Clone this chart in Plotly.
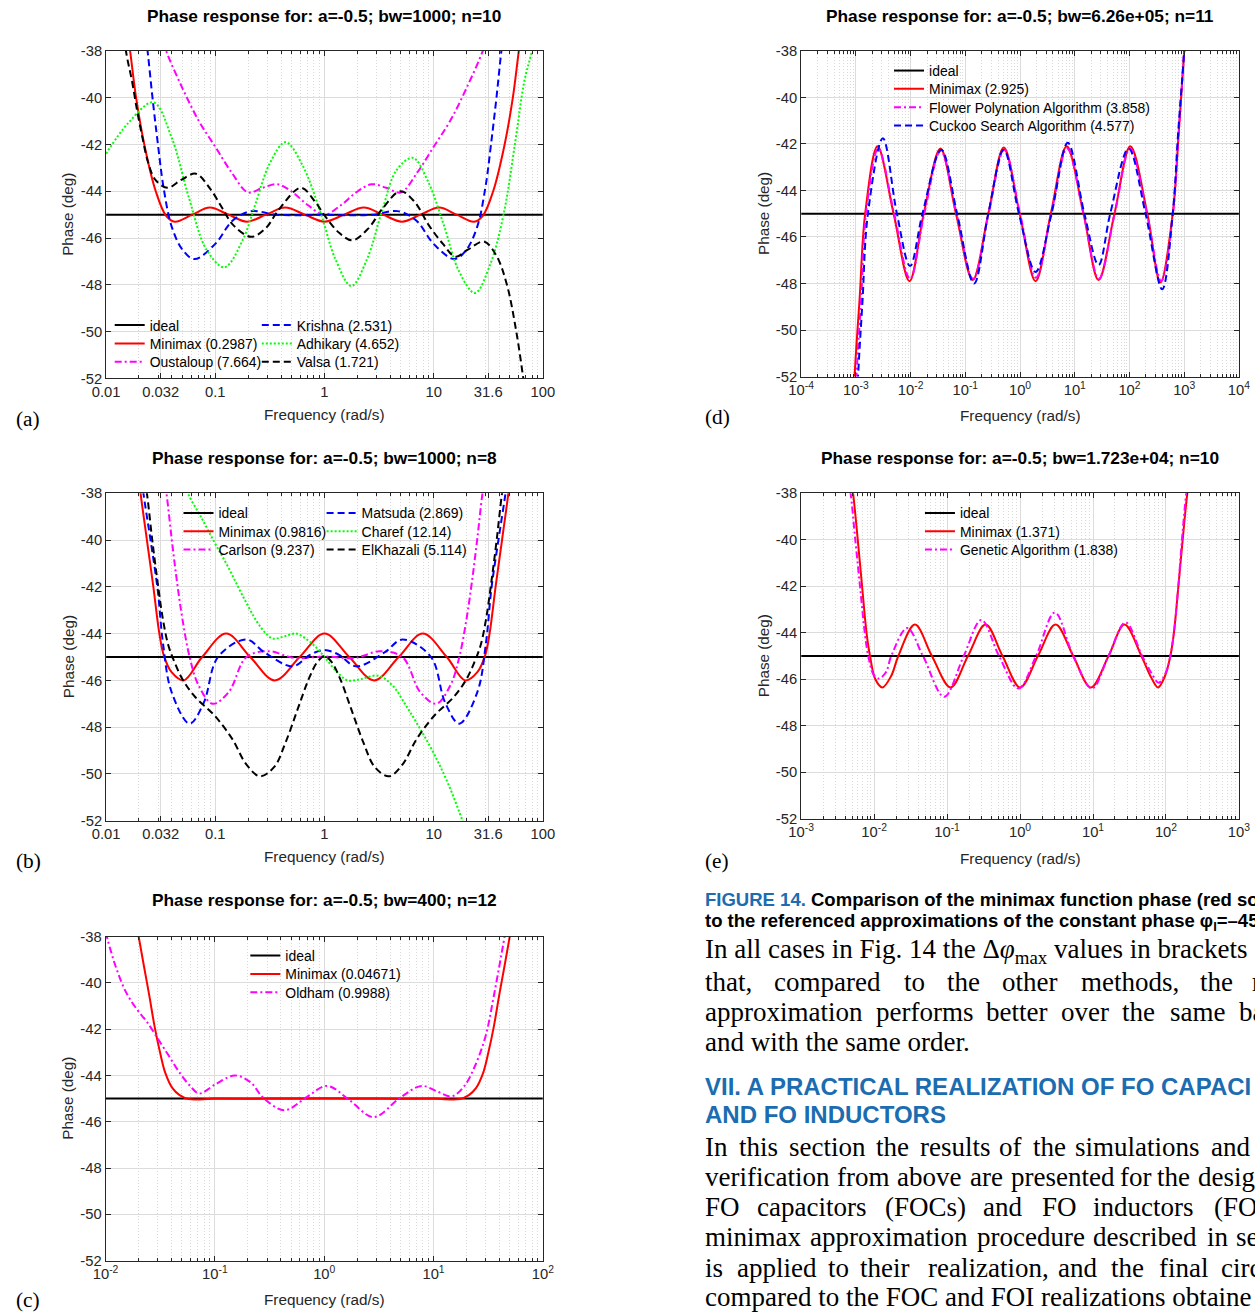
import plotly.graph_objects as go

W, H = 1255, 1314
SANS = "Liberation Sans, Arial, Helvetica, sans-serif"
SERIF = "Liberation Serif, Times New Roman, serif"
INK = "#262626"
HEAD_BLUE = "#1b6cb0"
RED, BLUE, GREEN, MAGENTA, BLACK = "#ff0000", "#0000ff", "#00ff00", "#ff00ff", "#000000"
DASHES = {"solid": "solid", "dash": "7px,4px", "dot": "2px,2px", "dashdot": "7px,3px,2px,3px"}
FS = 1.018  # font scale

# ---------------- data (log10 of frequency, phase in deg) ----------------
IDEAL_PH = [-45, -45]

# (a) bw=1000, n=10
A_MINIMAX_LOGW = [-1.84, -1.78, -1.725, -1.65, -1.545, -1.45, -1.37, -1.21, -1.05, -0.88, -0.71, -0.535, -0.36, -0.18, 0.0,
                  0.18, 0.36, 0.535, 0.71, 0.88, 1.05, 1.21, 1.37, 1.45, 1.545, 1.65, 1.725, 1.78, 1.84]
A_MINIMAX_PH = [-36.0, -38.0, -40.0, -42.0, -44.0, -45.05, -45.3, -45.0, -44.7, -45.0, -45.3, -45.0, -44.7, -45.0, -45.3,
                -45.0, -44.7, -45.0, -45.3, -45.0, -44.7, -45.0, -45.3, -45.05, -44.0, -42.0, -40.0, -38.0, -36.0]
A_OUSTALOUP_LOGW = [-1.52, -1.45, -1.30, -1.15, -1.0, -0.85, -0.70, -0.565, -0.43, -0.29, -0.15, 0.0,
                    0.15, 0.29, 0.43, 0.565, 0.70, 0.85, 1.0, 1.15, 1.30, 1.45, 1.52]
A_OUSTALOUP_PH = [-37.0, -38.0, -39.6, -41.0, -42.1, -43.2, -44.05, -43.85, -43.7, -44.05, -44.6, -45.0,
                  -44.6, -44.05, -43.7, -43.85, -44.05, -43.2, -42.1, -41.0, -39.6, -38.0, -37.0]
A_KRISHNA_LOGW = [-1.66, -1.62, -1.575, -1.525, -1.475, -1.40, -1.30, -1.19, -1.0, -0.84, -0.67, -0.45, -0.2, 0.0,
                  0.2, 0.45, 0.67, 0.84, 1.0, 1.19, 1.30, 1.40, 1.475, 1.525, 1.575, 1.62, 1.66]
A_KRISHNA_PH = [-36.5, -38.0, -40.0, -42.0, -43.8, -45.5, -46.5, -46.9, -46.25, -45.25, -44.85, -45.0, -45.03, -45.0,
                -45.03, -45.0, -44.85, -45.25, -46.25, -46.9, -46.5, -45.5, -43.8, -42.0, -40.0, -38.0, -36.5]
A_ADHIKARY_LOGW = [-2.0, -1.80, -1.567, -1.40, -1.24, -1.08, -0.916, -0.75, -0.636, -0.50, -0.356, -0.20, -0.03, 0.10,
                   0.246, 0.39, 0.53, 0.66, 0.81, 0.95, 1.09, 1.23, 1.378, 1.52, 1.64, 1.75, 1.83, 1.90, 1.96]
A_ADHIKARY_PH = [-42.4, -41.1, -40.2, -41.7, -44.3, -46.5, -47.25, -46.1, -44.6, -42.8, -41.9, -42.9, -45.0, -46.9,
                 -48.05, -46.9, -44.8, -43.1, -42.57, -43.6, -45.4, -47.4, -48.35, -47.1, -45.0, -41.8, -39.3, -38.0, -36.5]
A_VALSA_LOGW = [-1.85, -1.818, -1.762, -1.714, -1.665, -1.616, -1.55, -1.437, -1.307, -1.177, -1.046, -0.932, -0.835,
                -0.672, -0.542, -0.412, -0.216, -0.086, 0.011, 0.14, 0.255, 0.40, 0.53, 0.695, 0.825, 0.955, 1.085,
                1.2, 1.313, 1.46, 1.574, 1.671, 1.753, 1.818, 1.85]
A_VALSA_PH = [-36.5, -38.0, -39.3, -40.6, -41.75, -42.75, -43.5, -43.85, -43.5, -43.25, -43.9, -44.75, -45.45,
              -45.95, -45.6, -44.75, -43.85, -44.45, -45.1, -45.8, -46.1, -45.6, -44.75, -44.0, -44.45, -45.45, -46.25,
              -46.8, -46.5, -46.15, -46.75, -48.0, -49.9, -51.9, -53.0]

# (b) bw=1000, n=8
B_MINIMAX_LOGW = [-1.72, -1.684, -1.626, -1.567, -1.512, -1.47, -1.40, -1.29, -1.12, -0.90, -0.68, -0.455, -0.227, 0.0,
                  0.227, 0.455, 0.68, 0.90, 1.12, 1.29, 1.40, 1.47, 1.512, 1.567, 1.626, 1.684, 1.72]
B_MINIMAX_PH = [-36.5, -38.0, -40.0, -42.0, -44.0, -44.95, -45.65, -46.0, -45.0, -44.0, -45.0, -46.0, -45.0, -44.0,
                -45.0, -46.0, -45.0, -44.0, -45.0, -46.0, -45.65, -44.95, -44.0, -42.0, -40.0, -38.0, -36.5]
B_MATSUDA_LOGW = [-1.70, -1.658, -1.593, -1.528, -1.479, -1.40, -1.235, -1.105, -0.975, -0.715, -0.55, -0.29, -0.13, 0.0,
                  0.13, 0.29, 0.55, 0.715, 0.975, 1.105, 1.235, 1.40, 1.479, 1.528, 1.593, 1.658, 1.70]
B_MATSUDA_PH = [-36.5, -38.0, -40.0, -42.1, -44.4, -46.5, -47.85, -46.95, -45.0, -44.25, -44.8, -45.4, -44.9, -44.7,
                -44.9, -45.4, -44.8, -44.25, -45.0, -46.95, -47.85, -46.5, -44.4, -42.1, -40.0, -38.0, -36.5]
B_CARLSON_LOGW = [-1.48, -1.447, -1.398, -1.35, -1.30, -1.235, -1.154, -1.024, -0.877, -0.714, -0.503, -0.356, -0.26, 0.0,
                  0.26, 0.356, 0.503, 0.714, 0.877, 1.024, 1.154, 1.235, 1.30, 1.35, 1.398, 1.447, 1.48]
B_CARLSON_PH = [-37.0, -38.0, -40.0, -41.8, -43.4, -45.0, -46.2, -47.0, -46.5, -45.0, -44.75, -44.95, -45.05, -44.98,
                -45.05, -44.95, -44.75, -45.0, -46.5, -47.0, -46.2, -45.0, -43.4, -41.8, -40.0, -38.0, -37.0]
B_CHAREF_LOGW = [-1.29, -1.251, -1.138, -1.007, -0.877, -0.747, -0.617, -0.535, -0.47, -0.356, -0.259, -0.161, -0.063,
                 0.018, 0.116, 0.213, 0.327, 0.49, 0.62, 0.75, 0.88, 1.01, 1.14, 1.264, 1.30]
B_CHAREF_PH = [-37.4, -38.0, -38.95, -40.1, -41.2, -42.4, -43.5, -44.0, -44.22, -44.1, -44.0, -44.25, -44.65,
               -45.1, -45.65, -46.0, -45.95, -45.8, -46.2, -47.1, -48.1, -49.2, -50.5, -52.0, -52.5]
B_ELKHAZALI_LOGW = [-1.66, -1.626, -1.577, -1.528, -1.479, -1.43, -1.375, -1.30, -1.186, -1.007, -0.845, -0.714, -0.59,
                    -0.46, -0.356, -0.243, -0.145, -0.063, 0.0, 0.063, 0.145, 0.243, 0.356, 0.46, 0.59, 0.714, 0.845,
                    1.007, 1.186, 1.30, 1.375, 1.43, 1.479, 1.528, 1.577, 1.626, 1.66]
B_ELKHAZALI_PH = [-37.0, -38.0, -40.0, -41.8, -43.4, -44.5, -45.2, -45.95, -46.7, -47.5, -48.5, -49.6, -50.1,
                  -49.7, -48.65, -47.2, -45.95, -45.2, -44.97, -45.2, -45.95, -47.2, -48.65, -49.7, -50.1, -49.6, -48.5,
                  -47.5, -46.7, -45.95, -45.2, -44.5, -43.4, -41.8, -40.0, -38.0, -37.0]

# (c) bw=400, n=12
C_MINIMAX_LOGW = [-1.74, -1.697, -1.648, -1.60, -1.551, -1.502, -1.453, -1.388, -1.323, -1.24, -1.0, -0.5, 0.0,
                  0.5, 1.0, 1.24, 1.323, 1.388, 1.453, 1.502, 1.551, 1.60, 1.648, 1.697, 1.74]
C_MINIMAX_PH = [-36.8, -38.0, -39.3, -40.55, -41.9, -43.0, -43.9, -44.55, -44.85, -45.02, -45.0, -45.0, -44.98,
                -45.0, -45.0, -45.02, -44.85, -44.55, -43.9, -43.0, -41.9, -40.55, -39.3, -38.0, -36.8]
C_OLDHAM_LOGW = [-2.0, -1.909, -1.811, -1.714, -1.616, -1.518, -1.42, -1.323, -1.225, -1.144, -0.998, -0.818, -0.672,
                 -0.558, -0.363, -0.151, 0.028, 0.239, 0.451, 0.695, 0.89, 1.037, 1.167, 1.281, 1.378, 1.476, 1.55,
                 1.65, 1.68]
C_OLDHAM_PH = [-37.8, -39.27, -40.42, -41.14, -41.72, -42.44, -43.16, -43.88, -44.46, -44.78, -44.39, -44.0, -44.3,
               -44.96, -45.5, -44.9, -44.45, -45.1, -45.8, -44.96, -44.45, -44.7, -44.9, -44.46, -43.6, -42.3, -40.6,
               -38.0, -37.2]

# (d) bw=6.26e+05, n=11
D_MINIMAX_LOGW = [-3.10, -3.024, -2.93, -2.83, -2.604, -2.31, -2.02, -1.76, -1.455, -1.17, -0.865, -0.58, -0.297,
                  -0.006, 0.284, 0.562, 0.853, 1.16, 1.435, 1.725, 2.016, 2.326, 2.565, 2.79, 2.90, 3.0, 3.05]
D_MINIMAX_PH = [-56.0, -52.0, -48.6, -45.0, -42.1, -45.0, -47.9, -45.0, -42.2, -45.0, -47.85, -45.0, -42.15,
                -45.0, -47.9, -45.0, -42.1, -45.0, -47.85, -45.0, -42.1, -45.0, -47.95, -45.0, -41.5, -38.0, -36.0]
D_FPA_LOGW = [-3.07, -2.99, -2.90, -2.815, -2.59, -2.30, -2.01, -1.75, -1.45, -1.16, -0.86, -0.575, -0.29,
              0.0, 0.29, 0.57, 0.86, 1.16, 1.44, 1.73, 2.01, 2.32, 2.58, 2.795, 2.90, 3.0, 3.05]
D_FPA_PH = [-56.0, -52.0, -48.5, -45.0, -42.2, -45.0, -47.8, -45.0, -42.3, -45.0, -47.8, -45.0, -42.25,
            -45.0, -47.75, -45.0, -42.2, -45.0, -47.8, -45.0, -42.2, -45.0, -47.9, -45.0, -41.5, -38.0, -36.0]
D_CUCKOO_LOGW = [-3.03, -2.96, -2.88, -2.78, -2.507, -2.25, -2.01, -1.783, -1.44, -1.15, -0.84, -0.58, -0.297,
                 -0.02, 0.284, 0.575, 0.872, 1.176, 1.435, 1.648, 1.984, 2.294, 2.598, 2.79, 2.89, 3.0, 3.05]
D_CUCKOO_PH = [-56.0, -52.0, -48.8, -45.0, -41.75, -45.0, -47.25, -45.0, -42.25, -45.0, -48.0, -45.0, -42.25,
               -45.0, -47.5, -45.0, -41.95, -45.0, -47.2, -45.0, -42.2, -45.0, -48.25, -45.0, -41.5, -38.0, -36.0]

# (e) bw=1.723e+04, n=10
E_MINIMAX_LOGW = [-2.32, -2.288, -2.225, -2.162, -2.104, -2.056, -1.983, -1.886, -1.765, -1.668, -1.44, -1.208, -0.952,
                  -0.714, -0.472, -0.24, 0.002, 0.245, 0.487, 0.729, 0.971, 1.213, 1.431, 1.663, 1.794, 1.891, 1.988,
                  2.06, 2.109, 2.167, 2.23, 2.293, 2.33]
E_MINIMAX_PH = [-37.3, -38.0, -39.97, -42.1, -44.0, -45.0, -46.0, -46.35, -45.85, -45.0, -43.65, -45.0, -46.35,
                -45.0, -43.65, -45.0, -46.35, -45.0, -43.65, -45.0, -46.35, -45.0, -43.65, -45.0, -45.9, -46.35, -45.85,
                -45.0, -44.0, -42.1, -39.97, -38.0, -37.3]
E_GA_LOGW = [-2.36, -2.322, -2.259, -2.19, -2.128, -2.08, -2.007, -1.935, -1.838, -1.765, -1.547, -1.33, -1.04,
             -0.772, -0.53, -0.288, -0.022, 0.22, 0.477, 0.729, 0.986, 1.213, 1.445, 1.673, 1.794, 1.90, 2.0,
             2.06, 2.109, 2.167, 2.22, 2.278, 2.31]
E_GA_PH = [-37.3, -38.0, -39.97, -42.1, -44.0, -45.0, -45.8, -45.97, -45.7, -45.0, -43.8, -45.0, -46.75,
           -45.0, -43.45, -45.0, -46.4, -45.0, -43.13, -45.0, -46.4, -45.0, -43.55, -45.0, -45.7, -46.15, -45.7,
           -45.0, -44.0, -42.1, -39.97, -38.0, -37.3]

Y_TICKS = [-52, -50, -48, -46, -44, -42, -40, -38]
LIN_TICKVALS = [0.01, 0.0316, 0.1, 1, 10, 31.6, 100]
LIN_TICKTEXT = ["0.01", "0.032", "0.1", "1", "10", "31.6", "100"]


def pow_ticks(lo, hi):
    vals = [10.0 ** e for e in range(lo, hi + 1)]
    txt = ["10<sup>%d</sup>" % e for e in range(lo, hi + 1)]
    return vals, txt


def minor_vals(lo, hi):
    return [k * 10.0 ** e for e in range(lo, hi) for k in range(2, 10)]


# reference-image pixel -> page pixel (measured stretch of the rendered page)
def X(x):
    return 704 + (x - 704) / 0.982


def Y(y):
    return 880 + (y - 878) / 0.987


def px(x):
    return X(x) / W


def py(y):
    return 1 - Y(y) / H


def pxa(x):  # already page pixels
    return x / W


def pya(y):
    return 1 - y / H


PANELS = [
    dict(n=1, x0=105, x1=543, y0=52.3, y1=379.5, xr=(-2, 2), ticks=(LIN_TICKVALS, LIN_TICKTEXT),
         title="Phase response for: a=-0.5; bw=1000; n=10", ty=17, lab="(a)", ly=420, lx=8, ytx=66, xty=416),
    dict(n=2, x0=105, x1=543, y0=494.3, y1=821.5, xr=(-2, 2), ticks=(LIN_TICKVALS, LIN_TICKTEXT),
         title="Phase response for: a=-0.5; bw=1000; n=8", ty=459, lab="(b)", ly=862, lx=8, ytx=67, xty=857),
    dict(n=3, x0=104.5, x1=543, y0=937.3, y1=1261, xr=(-2, 2), ticks=pow_ticks(-2, 2),
         title="Phase response for: a=-0.5; bw=400; n=12", ty=901, lab="(c)", ly=1300, lx=8, ytx=66, xty=1299.5),
    dict(n=4, x0=802, x1=1241, y0=52.3, y1=377.7, xr=(-4, 4), ticks=pow_ticks(-4, 4),
         title="Phase response for: a=-0.5; bw=6.26e+05; n=11", ty=17, lab="(d)", ly=418, lx=704, ytx=764, xty=417),
    dict(n=5, x0=802, x1=1241, y0=494.3, y1=819.5, xr=(-3, 3), ticks=pow_ticks(-3, 3),
         title="Phase response for: a=-0.5; bw=1.723e+04; n=10", ty=459, lab="(e)", ly=862, lx=704, ytx=764, xty=859),
]

LEGEND_ROWS = {}
fig = go.Figure()


def add_curve(n, logw, ph, name, color, style, row=None, shape="spline"):
    s = "" if n == 1 else str(n)
    legend_id = "legend" if len(LEGEND_ROWS) == 0 else "legend%d" % (len(LEGEND_ROWS) + 1)
    LEGEND_ROWS[legend_id] = row
    fig.add_trace(go.Scatter(
        x=[10.0 ** v for v in logw], y=ph, name=name, mode="lines",
        line=dict(color=color, width=2, dash=DASHES[style], shape=shape, smoothing=1.0),
        xaxis="x" + s, yaxis="y" + s, legend=legend_id, hoverinfo="skip"))


# (a)
add_curve(1, [-2, 2], IDEAL_PH, "ideal", BLACK, "solid", (116, 325), "linear")
add_curve(1, A_MINIMAX_LOGW, A_MINIMAX_PH, "Minimax (0.2987)", RED, "solid", (116, 343.3))
add_curve(1, A_OUSTALOUP_LOGW, A_OUSTALOUP_PH, "Oustaloup (7.664)", MAGENTA, "dashdot", (116, 361.7))
add_curve(1, A_KRISHNA_LOGW, A_KRISHNA_PH, "Krishna (2.531)", BLUE, "dash", (263.5, 325))
add_curve(1, A_ADHIKARY_LOGW, A_ADHIKARY_PH, "Adhikary (4.652)", GREEN, "dot", (263.5, 343.3))
add_curve(1, A_VALSA_LOGW, A_VALSA_PH, "Valsa (1.721)", BLACK, "dash", (263.5, 361.7))
# (b)
add_curve(2, [-2, 2], IDEAL_PH, "ideal", BLACK, "solid", (185, 512.7), "linear")
add_curve(2, B_MINIMAX_LOGW, B_MINIMAX_PH, "Minimax (0.9816)", RED, "solid", (185, 531))
add_curve(2, B_CARLSON_LOGW, B_CARLSON_PH, "Carlson (9.237)", MAGENTA, "dashdot", (185, 549.3))
add_curve(2, B_MATSUDA_LOGW, B_MATSUDA_PH, "Matsuda (2.869)", BLUE, "dash", (328.5, 512.7))
add_curve(2, B_CHAREF_LOGW, B_CHAREF_PH, "Charef (12.14)", GREEN, "dot", (328.5, 531))
add_curve(2, B_ELKHAZALI_LOGW, B_ELKHAZALI_PH, "ElKhazali (5.114)", BLACK, "dash", (328.5, 549.3))
# (c)
add_curve(3, [-2, 2], IDEAL_PH, "ideal", BLACK, "solid", (252, 955), "linear")
add_curve(3, C_MINIMAX_LOGW, C_MINIMAX_PH, "Minimax (0.04671)", RED, "solid", (252, 973.3))
add_curve(3, C_OLDHAM_LOGW, C_OLDHAM_PH, "Oldham (0.9988)", MAGENTA, "dashdot", (252, 991.7))
# (d)
add_curve(4, [-4, 4], IDEAL_PH, "ideal", BLACK, "solid", (897.5, 70.7), "linear")
add_curve(4, D_MINIMAX_LOGW, D_MINIMAX_PH, "Minimax (2.925)", RED, "solid", (897.5, 89))
add_curve(4, D_FPA_LOGW, D_FPA_PH, "Flower Polynation Algorithm (3.858)", MAGENTA, "dashdot", (897.5, 107.3))
add_curve(4, D_CUCKOO_LOGW, D_CUCKOO_PH, "Cuckoo Search Algorithm (4.577)", BLUE, "dash", (897.5, 125.7))
# (e)
add_curve(5, [-3, 3], IDEAL_PH, "ideal", BLACK, "solid", (928.5, 512.7), "linear")
add_curve(5, E_MINIMAX_LOGW, E_MINIMAX_PH, "Minimax (1.371)", RED, "solid", (928.5, 531))
add_curve(5, E_GA_LOGW, E_GA_PH, "Genetic Algorithm (1.838)", MAGENTA, "dashdot", (928.5, 549.3))

tickfont = dict(family=SANS, size=14.5 * FS, color=INK)
layout = {}
annotations = []
for p in PANELS:
    s = "" if p["n"] == 1 else str(p["n"])
    tv, tt = p["ticks"]
    layout["xaxis" + s] = dict(
        type="log", domain=[px(p["x0"]), px(p["x1"])], range=list(p["xr"]), anchor="y" + s,
        tickmode="array", tickvals=tv, ticktext=tt, tickfont=tickfont,
        ticks="inside", ticklen=5, tickwidth=1, tickcolor=INK,
        showline=True, linecolor=INK, linewidth=1, mirror="allticks",
        showgrid=True, gridcolor="#dcdcdc", gridwidth=1, zeroline=False, fixedrange=True,
        minor=dict(tickmode="array", tickvals=minor_vals(p["xr"][0], p["xr"][1]), ticks="inside", ticklen=3,
                   tickwidth=1, tickcolor=INK, showgrid=True, gridcolor="#d9d9d9", griddash="1px,2px", gridwidth=1))
    layout["yaxis" + s] = dict(
        domain=[py(p["y1"]), py(p["y0"])], range=[-52, -38], anchor="x" + s,
        tickmode="array", tickvals=Y_TICKS, ticktext=["-%d" % abs(v) for v in Y_TICKS], tickfont=tickfont,
        ticks="inside", ticklen=5, tickwidth=1, tickcolor=INK,
        showline=True, linecolor=INK, linewidth=1, mirror="allticks",
        showgrid=True, gridcolor="#dcdcdc", gridwidth=1, zeroline=False, fixedrange=True)
    cx = (p["x0"] + p["x1"]) / 2
    annotations.append(dict(text="<b>%s</b>" % p["title"], x=px(cx), y=py(p["ty"]), xref="paper", yref="paper",
                            xanchor="center", yanchor="middle", showarrow=False,
                            font=dict(family=SANS, size=17 * FS, color="#000000")))
    annotations.append(dict(text="Frequency (rad/s)", x=px(cx), y=py(p["xty"]), xref="paper", yref="paper",
                            xanchor="center", yanchor="middle", showarrow=False,
                            font=dict(family=SANS, size=15 * FS, color=INK)))
    annotations.append(dict(text="Phase (deg)", x=px(p["ytx"]), y=py((p["y0"] + p["y1"]) / 2), xref="paper",
                            yref="paper", xanchor="center", yanchor="middle", showarrow=False, textangle=-90,
                            font=dict(family=SANS, size=15 * FS, color=INK)))
    annotations.append(dict(text=p["lab"], x=pxa(max(X(p["lx"]), 0.5)), y=py(p["ly"]), xref="paper", yref="paper",
                            xanchor="left", yanchor="middle", showarrow=False,
                            font=dict(family=SERIF, size=21 * FS, color="#000000")))

for key, (lx, ly) in LEGEND_ROWS.items():
    layout[key] = dict(x=pxa(X(lx) - 7.5), y=pya(Y(ly) - 14.5), xanchor="left", yanchor="top",
                       bgcolor="rgba(0,0,0,0)", borderwidth=0,
                       font=dict(family=SANS, size=13.7 * FS, color="#000000"), traceorder="normal",
                       itemclick=False, itemdoubleclick=False)

# ---------------- right-hand text column ----------------
CAPTION = [
    (900, "<b><span style='color:%s'>FIGURE 14.</span> Comparison of the minimax function phase (red so</b>" % HEAD_BLUE),
    (923, "<b>to the referenced approximations of the constant phase φ<sub>I</sub>=–45</b>"),
]
HEADING = [(1087, "<b>VII. A PRACTICAL REALIZATION OF FO CAPACI</b>"), (1115, "<b>AND FO INDUCTORS</b>")]
BODY = [
    (952, [(703.6, "In all cases in Fig. 14 the Δ<i>φ</i><sub>max</sub> values in brackets")]),
    (983, [(703.6, "that,"), (773.2, "compared"), (903.6, "to"), (946.4, "the"), (1001.8, "other"),
           (1080.4, "methods,"), (1200, "the"), (1252, "r")]),
    (1013, [(703.6, "approximation"), (875, "performs"), (985.7, "better"), (1060.7, "over"), (1121.4, "the"),
            (1169.6, "same"), (1239.3, "ba")]),
    (1043, [(703.6, "and with the same order.")]),
    (1147, [(703.6, "In"), (737.5, "this"), (787.5, "section"), (875, "the"), (919.6, "results"), (998.2, "of"),
            (1032.1, "the"), (1075, "simulations"), (1210.7, "and")]),
    (1177, [(703.6, "verification"), (835.7, "from"), (896.4, "above"), (969.6, "are"), (1010.7, "presented"),
            (1119.6, "for"), (1157.1, "the"), (1198.2, "desig")]),
    (1207, [(703.6, "FO"), (755.4, "capacitors"), (883.9, "(FOCs)"), (982.1, "and"), (1041.1, "FO"),
            (1092.9, "inductors"), (1214.3, "(FOI")]),
    (1237, [(703.6, "minimax"), (808.9, "approximation"), (976.8, "procedure"), (1092.9, "described"),
            (1207.1, "in"), (1235.7, "se")]),
    (1268, [(703.6, "is"), (735.7, "applied"), (826.8, "to"), (858.9, "their"), (926.8, "realization,"),
            (1057.1, "and"), (1110.7, "the"), (1158.9, "final"), (1221.4, "circ")]),
    (1297, [(703.6, "compared to the FOC and FOI realizations obtaine")]),
]
for yc, txt in CAPTION:
    annotations.append(dict(text=txt, x=px(704), y=py(yc), xref="paper", yref="paper", xanchor="left",
                            yanchor="middle", showarrow=False, font=dict(family=SANS, size=18.2 * FS, color="#000000")))
for yc, txt in HEADING:
    annotations.append(dict(text=txt, x=px(704), y=py(yc), xref="paper", yref="paper", xanchor="left",
                            yanchor="middle", showarrow=False, font=dict(family=SANS, size=24, color=HEAD_BLUE)))
for yc, words in BODY:
    for wx, w in words:
        annotations.append(dict(text=w, x=px(wx), y=py(yc), xref="paper", yref="paper", xanchor="left",
                                yanchor="middle", showarrow=False,
                                font=dict(family=SERIF, size=27.0, color="#000000")))

fig.update_layout(**layout)
fig.update_layout(width=W, height=H, margin=dict(l=0, r=0, t=0, b=0), paper_bgcolor="white",
                  plot_bgcolor="white", showlegend=True, annotations=annotations, hovermode=False)
fig.write_html("out.html", include_plotlyjs=True, config={"displayModeBar": False},
               post_script="document.body.style.margin='0px';")
